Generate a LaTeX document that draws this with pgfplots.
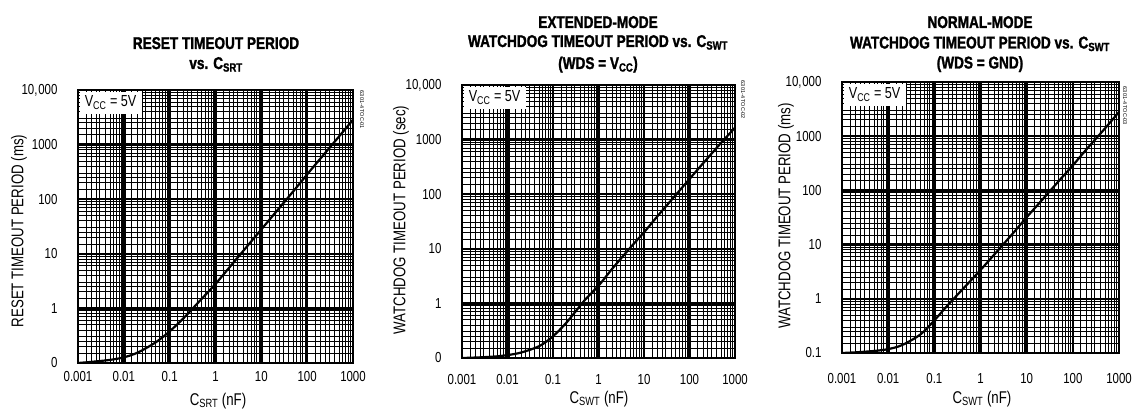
\documentclass[border=0pt]{standalone}
\usepackage{pgfplots}
\pgfplotsset{compat=1.18}
\usepackage{fontspec}
\setmainfont{Liberation Sans}
\newfontfamily\titlefont[FakeStretch=0.80, BoldFeatures={FakeBold=1.5}]{Liberation Sans}
\newfontfamily\labfont[FakeStretch=0.78]{Liberation Sans}
\newfontfamily\tickfont[FakeStretch=0.79]{Liberation Sans}

\pgfplotstableread{
x y
0.001 0.100
0.002 0.105
0.005 0.114
0.01 0.127
0.02 0.155
0.05 0.24
0.1 0.38
0.2 0.66
0.5 1.5
1 2.8
2 5.6
5 14
10 28
20 56
50 140
100 285
200 570
500 1420
1000 2850
}\resetdata
\pgfplotstableread{
x y
0.001 0.100
0.002 0.102
0.005 0.106
0.01 0.113
0.02 0.126
0.05 0.165
0.1 0.25
0.2 0.45
0.5 1.15
1 2.1
2 4.3
5 10.5
10 20
20 40
50 97
100 190
200 370
500 880
1000 1650
}\extdata
\pgfplotstableread{
x y
0.001 0.100
0.002 0.103
0.005 0.109
0.01 0.118
0.02 0.14
0.05 0.22
0.1 0.40
0.2 0.78
0.5 1.8
1 3.4
2 6.6
5 16
10 32
20 62
50 150
100 290
200 580
500 1400
1000 2800
}\normdata

\pgfplotsset{
  every axis/.append style={
  xmode=log, ymode=log, scale only axis,
  xmin=0.001, xmax=1000, ymin=0.1, ymax=10000,
  xtick={0.001,0.01,0.1,1,10,100,1000},
  xticklabels={0.001,0.01,0.1,1,10,100,1000},
  ytick={0.1,1,10,100,1000,10000},
  minor xtick={0.0015,0.002,0.0025,0.003,0.004,0.005,0.006,0.007,0.008,0.009,
   0.015,0.02,0.025,0.03,0.04,0.05,0.06,0.07,0.08,0.09,
   0.15,0.2,0.25,0.3,0.4,0.5,0.6,0.7,0.8,0.9,
   1.5,2,2.5,3,4,5,6,7,8,9,
   15,20,25,30,40,50,60,70,80,90,
   150,200,250,300,400,500,600,700,800,900},
  minor ytick={0.15,0.2,0.25,0.3,0.4,0.5,0.6,0.7,0.8,0.9,
   1.5,2,2.5,3,4,5,6,7,8,9,
   15,20,25,30,40,50,60,70,80,90,
   150,200,250,300,400,500,600,700,800,900,
   1500,2000,2500,3000,4000,5000,6000,7000,8000,9000},
  major tick length=0pt, minor tick length=0pt,
  grid=both,
  major grid style={line width=2.5pt,black},
  minor grid style={line width=1pt,black},
  axis line style={line width=2.8pt},
  tick label style={font=\tickfont\fontsize{14.5}{16}\selectfont},
  yticklabel style={xshift=-17pt},
  }
}
\tikzset{
 vcc/.style={anchor=north west, fill=white, inner sep=0pt, minimum width=62pt,
   minimum height=22pt, font=\tickfont\fontsize{16}{18}\selectfont, xshift=1.4pt, yshift=-1.4pt},
 ttl/.style={anchor=base, font=\titlefont\bfseries\fontsize{17}{20}\selectfont, inner sep=0pt},
 lab/.style={font=\labfont\fontsize{17}{19}\selectfont, inner sep=0pt},
 fcode/.style={font=\fontsize{5.5}{6}\selectfont, rotate=-90, inner sep=0pt},
}

\begin{document}
\begin{tikzpicture}
\useasboundingbox (0pt,0pt) rectangle (1137pt,409pt);

% ---- Plot 1
\begin{axis}[anchor=south west, at={(78pt,46pt)}, width=275pt, height=273pt,
  xticklabel style={yshift=-4.5pt},
  yticklabels={0,1,10,100,1000,{10,\kern0.8pt000}}]
\draw[line width=4pt] (axis cs:0.01,0.1) -- (axis cs:0.01,10000);
\addplot[line width=2.2pt, black, smooth] table[x=x,y=y] {\resetdata};
\node[vcc] at (rel axis cs:0,1) {V\textsubscript{CC} = 5V};
\end{axis}

% ---- Plot 2
\begin{axis}[anchor=south west, at={(462pt,51pt)}, width=273pt, height=273pt,
  xticklabel style={yshift=-12.5pt},
  yticklabels={0,1,10,100,1000,{10,\kern0.8pt000}}]
\draw[line width=4pt] (axis cs:0.01,0.1) -- (axis cs:0.01,10000);
\addplot[line width=2.2pt, black, smooth] table[x=x,y=y] {\extdata};
\node[vcc] at (rel axis cs:0,1) {V\textsubscript{CC} = 5V};
\end{axis}

% ---- Plot 3
\begin{axis}[anchor=south west, at={(842pt,56pt)}, width=277pt, height=271pt,
  xticklabel style={yshift=-16.5pt},
  yticklabels={0.1,1,10,100,1000,{10,\kern0.8pt000}}]
\draw[line width=4pt] (axis cs:0.01,0.1) -- (axis cs:0.01,10000);
\addplot[line width=2.2pt, black, smooth] table[x=x,y=y] {\normdata};
\node[vcc] at (rel axis cs:0,1) {V\textsubscript{CC} = 5V};
\end{axis}

% titles
\node[ttl] at (216pt,360pt) {RESET TIMEOUT PERIOD};
\node[ttl] at (216pt,340pt) {vs. C\textsubscript{SRT}};

\node[ttl] at (598pt,381pt) {EXTENDED-MODE};
\node[ttl] at (598pt,362pt) {WATCHDOG TIMEOUT PERIOD vs. C\textsubscript{SWT}};
\node[ttl] at (598pt,340pt) {(WDS = V\textsubscript{CC})};

\node[ttl] at (980pt,381pt) {NORMAL-MODE};
\node[ttl] at (980pt,360.5pt) {WATCHDOG TIMEOUT PERIOD vs. C\textsubscript{SWT}};
\node[ttl] at (980pt,340.5pt) {(WDS = GND)};

% axis labels
\node[lab, rotate=90] at (19pt,178pt) {RESET TIMEOUT PERIOD (ms)};
\node[lab, rotate=90] at (401pt,189pt) {WATCHDOG TIMEOUT PERIOD (sec)};
\node[lab, rotate=90] at (786pt,193pt) {WATCHDOG TIMEOUT PERIOD (ms)};
\node[lab] at (218pt,8pt) {C\textsubscript{SRT} (nF)};
\node[lab] at (599pt,10pt) {C\textsubscript{SWT} (nF)};
\node[lab] at (982pt,10pt) {C\textsubscript{SWT} (nF)};

% figure codes
\node[fcode] at (362pt,299pt) {6301-4 TOC-01};
\node[fcode] at (743pt,309pt) {6301-4 TOC-02};
\node[fcode] at (1125pt,303pt) {6301-4 TOC-03};
\end{tikzpicture}
\end{document}
